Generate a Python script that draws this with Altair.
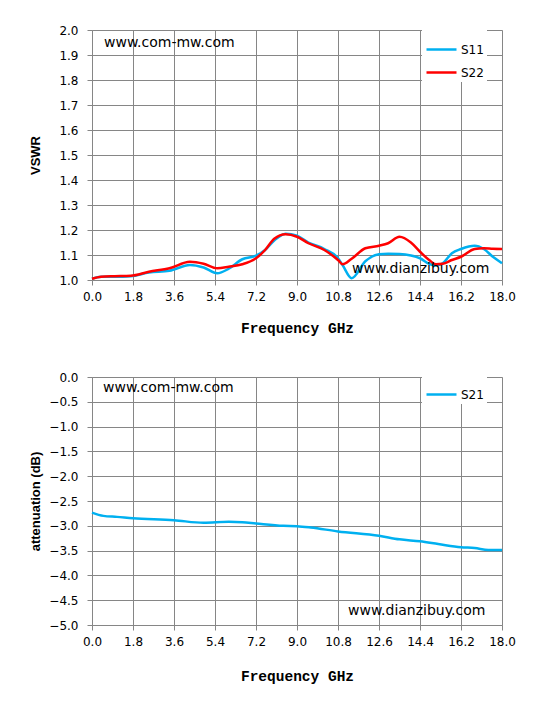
import altair as alt
import pandas as pd

# ---------------- data ----------------
freq_top = [0, 0.4, 1.0, 1.7, 2.5, 3.4, 4.3, 4.9, 5.5, 6.0, 6.6, 7.2, 7.6, 8.0, 8.5, 9.0,
            9.5, 10.2, 10.8, 11.0, 11.4, 12.0, 12.6, 13.0, 13.5, 14.0, 14.4, 14.8, 15.1,
            15.4, 15.8, 16.2, 16.8, 17.2, 17.6, 18.0]
s11 = [1.005, 1.013, 1.013, 1.015, 1.030, 1.037, 1.060, 1.050, 1.027, 1.045, 1.083, 1.097,
       1.120, 1.158, 1.185, 1.177, 1.150, 1.124, 1.087, 1.060, 1.007, 1.075, 1.103, 1.105,
       1.104, 1.098, 1.087, 1.065, 1.058, 1.067, 1.107, 1.124, 1.137, 1.124, 1.093, 1.067]
s22 = [1.005, 1.013, 1.015, 1.017, 1.033, 1.047, 1.073, 1.065, 1.047, 1.053, 1.063, 1.087,
       1.120, 1.165, 1.183, 1.173, 1.147, 1.120, 1.080, 1.063, 1.085, 1.127, 1.137, 1.147,
       1.173, 1.150, 1.113, 1.080, 1.063, 1.065, 1.080, 1.093, 1.124, 1.127, 1.125, 1.124]

freq_bot = [0, 0.5, 1.1, 1.8, 3.6, 4.9, 6.0, 6.6, 7.2, 8.4, 9.0, 9.6, 10.8, 12.6, 13.5,
            14.4, 15.2, 16.2, 16.8, 17.4, 18.0]
s21 = [-2.733, -2.800, -2.820, -2.847, -2.887, -2.940, -2.920, -2.927, -2.953, -3.000,
       -3.007, -3.033, -3.113, -3.200, -3.273, -3.313, -3.367, -3.433, -3.447, -3.487, -3.487]

x_ticks = [0, 1.8, 3.6, 5.4, 7.2, 9.0, 10.8, 12.6, 14.4, 16.2, 18.0]
vswr_ticks = [1.0, 1.1, 1.2, 1.3, 1.4, 1.5, 1.6, 1.7, 1.8, 1.9, 2.0]
att_ticks = [0.0, -0.5, -1.0, -1.5, -2.0, -2.5, -3.0, -3.5, -4.0, -4.5, -5.0]

series_top = ["S11", "S22"]
series_bot = ["S21"]
blue = "#00B0F0"
red = "#FF0000"
grid = "#868686"

n = len(freq_top)
df_top = pd.DataFrame({
    "freq": freq_top * 2,
    "value": s11 + s22,
    "series": [series_top[0]] * n + [series_top[1]] * n,
})
df_bot = pd.DataFrame({"freq": freq_bot, "value": s21, "series": series_bot * len(freq_bot)})

W, H1, H2 = 410, 250, 248

common_axis = dict(grid=True, gridColor=grid, gridWidth=1, gridOpacity=1,
                   domainColor=grid, domainWidth=1, tickColor=grid, tickSize=5, tickWidth=1,
                   labelFont="DejaVu Sans", labelFontSize=12, labelColor="black",
                   titleColor="black", labelFlush=False, format=".1f")


def legend(x, y):
    return alt.Legend(title=None, orient="none", legendX=x, legendY=y, fillColor="white",
                      symbolType="stroke", symbolSize=900, symbolStrokeWidth=2.5,
                      labelFont="DejaVu Sans", labelFontSize=12, labelColor="black",
                      labelOffset=3, padding=3, rowPadding=-2)


def x_axis(title_y):
    return alt.Axis(values=x_ticks, title="Frequency GHz",
                    titleFont="Liberation Mono", titleFontSize=14.5, titleFontWeight="bold",
                    titleY=title_y, titleBaseline="middle", labelPadding=6, **common_axis)


def y_axis(vals, title, h):
    return alt.Axis(values=vals, title=title,
                    titleFont="Liberation Sans", titleFontSize=13, titleFontWeight="bold",
                    titleX=-57, titleY=h / 2, titleBaseline="middle", titleAlign="center",
                    titleAngle=-90, labelPadding=9, **common_axis)


def label(txt, px, py):
    return alt.Chart(pd.DataFrame({"t": [txt]})).mark_text(
        align="left", baseline="middle", font="DejaVu Sans", fontSize=14, color="black"
    ).encode(x=alt.value(px), y=alt.value(py), text="t:N")


top_lines = alt.Chart(df_top).mark_line(strokeWidth=2.5, interpolate="monotone").encode(
    x=alt.X("freq:Q", scale=alt.Scale(domain=[0, 18], nice=False, zero=False), axis=x_axis(48)),
    y=alt.Y("value:Q", scale=alt.Scale(domain=[1.0, 2.0], nice=False, zero=False),
            axis=y_axis(vswr_ticks, "VSWR", H1)),
    color=alt.Color("series:N", scale=alt.Scale(domain=series_top, range=[blue, red]),
                    legend=legend(330, 0)),
)
top = alt.layer(top_lines, label("www.com-mw.com", 12, 13),
                label("www.dianzibuy.com", 260, 239)).properties(width=W, height=H1)

bot_lines = alt.Chart(df_bot).mark_line(strokeWidth=2.5, interpolate="monotone").encode(
    x=alt.X("freq:Q", scale=alt.Scale(domain=[0, 18], nice=False, zero=False), axis=x_axis(51)),
    y=alt.Y("value:Q", scale=alt.Scale(domain=[-5.0, 0.0], nice=False, zero=False),
            axis=y_axis(att_ticks, "attenuation (dB)", H2)),
    color=alt.Color("series:N", scale=alt.Scale(domain=series_bot, range=[blue]),
                    legend=legend(330, -2)),
)
bot = alt.layer(bot_lines, label("www.com-mw.com", 11, 11),
                label("www.dianzibuy.com", 256, 234)).properties(width=W, height=H2)

chart = alt.vconcat(top, bot, spacing=35).resolve_scale(color="independent").properties(
    padding={"top": 15, "left": 20, "right": 5, "bottom": 5}
).configure_view(stroke=grid).configure(background="white")

chart.save("out.html", embed_options={"renderer": "svg", "actions": False})
